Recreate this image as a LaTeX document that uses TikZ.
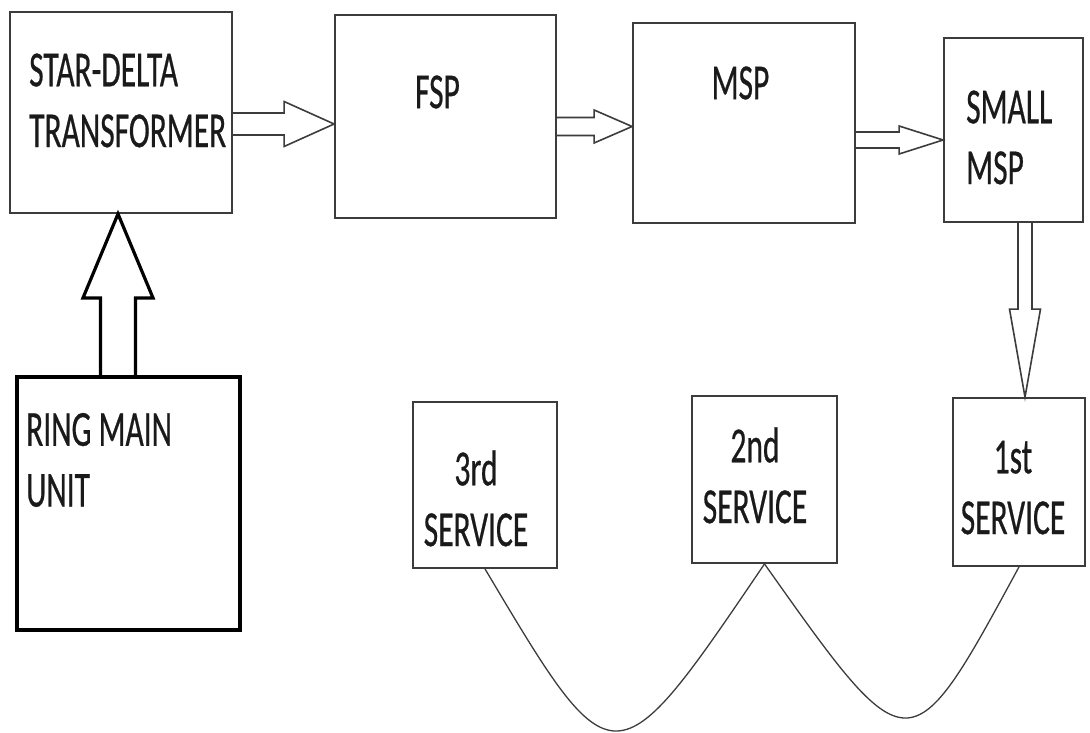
\documentclass[tikz,border=0pt]{standalone}
\usepackage{fontspec}
\setmainfont{Carlito}
\newfontfamily\labelfont{Carlito}[FakeBold=0.7]
\usepackage{graphicx}
\usetikzlibrary{calc}
\definecolor{linegray}{HTML}{3C3C3C}
\definecolor{inkblack}{HTML}{1A1A1A}
\newcommand{\tallL}[1]{\scalebox{1}[1.6]{\begin{tabular}{@{}l@{}}#1\end{tabular}}}
\newcommand{\tallC}[1]{\scalebox{1}[1.6]{\begin{tabular}{@{}c@{}}#1\end{tabular}}}
\tikzset{
  box/.style n args={2}{draw=linegray, line width=1.8pt, inner sep=0pt,
    minimum width=#1, minimum height=#2},
  txt/.style={inner sep=0pt, text=inkblack, font=\labelfont\fontsize{31.5}{38}\selectfont},
  hollow/.style={draw=linegray, line width=1.6pt, line join=miter},
  fat arrow/.style n args={3}{
    to path={
      let \p1=($(\tikztotarget)!#3!(\tikztostart)$) in
      ($(\tikztostart)!#1!90:(\tikztotarget)$)
      -- ($(\p1)!#1!90:(\tikztotarget)$)
      -- ($(\p1)!#2!90:(\tikztotarget)$)
      -- (\tikztotarget)
      -- ($(\p1)!#2!-90:(\tikztotarget)$)
      -- ($(\p1)!#1!-90:(\tikztotarget)$)
      -- ($(\tikztostart)!#1!-90:(\tikztotarget)$)
    }
  },
  wire/.style={draw=linegray, line width=1.3pt}
}
\begin{document}
\begin{tikzpicture}[x=1pt, y=-1pt]
  \useasboundingbox (0,0) rectangle (1090,733);

  \node (sdt)  [box={222pt}{201pt}] at (121,112.5) {};
  \node (fsp)  [box={221pt}{203pt}] at (445.5,116.5) {};
  \node (msp)  [box={222pt}{200pt}] at (744,123) {};
  \node (smsp) [box={139pt}{184pt}] at (1013.5,130) {};
  \node (rmu)  [box={223pt}{253pt}, draw=black, line width=3.2pt] at (128.5,503.5) {};
  \node (s3)   [box={144pt}{166pt}] at (485,485) {};
  \node (s2)   [box={145pt}{167pt}] at (764.5,479.5) {};
  \node (s1)   [box={132pt}{168pt}] at (1019,482) {};

  \node (sdt-t)  [txt, anchor=west] at (29,104.5) {\tallL{STAR-DELTA\\TRANSFORMER}};
  \node (fsp-t)  [txt] at (437.5,96) {\tallC{FSP}};
  \node (msp-t)  [txt] at (740.5,87) {\tallC{MSP}};
  \node (smsp-t) [txt, anchor=west] at (966,141.5) {\tallL{SMALL\\MSP}};
  \node (rmu-t)  [txt, anchor=west] at (26,464) {\tallL{RING MAIN\\UNIT}};
  \node (s3-t)   [txt] at (476,503.5) {\tallC{3rd\\SERVICE}};
  \node (s2-t)   [txt] at (755,480.5) {\tallC{2nd\\SERVICE}};
  \node (s1-t)   [txt] at (1013,491.5) {\tallC{1st\\SERVICE}};

  % power flow
  \draw[hollow, fat arrow={11pt}{22.5pt}{50pt}] (sdt.east |- 0,124) to (fsp.west |- 0,124);
  \draw[hollow, fat arrow={9pt}{16.5pt}{38pt}] (fsp.east |- 0,126.5) to (msp.west |- 0,126.5);
  \draw[hollow, fat arrow={8pt}{14pt}{44pt}] (msp.east |- 0,140) to (smsp.west |- 0,140);
  \draw[hollow, fat arrow={7pt}{15.5pt}{88pt}] (smsp.south -| 1025,0) to (s1.north -| 1025,0);
  \draw[hollow, line width=3.2pt, draw=black, fat arrow={17.5pt}{35pt}{84pt}]
    (rmu.north -| 118,0) to (sdt.south -| 118,0);

  % service loop
  \draw[wire] (s3.south) .. controls +(129,217) .. (s2.south);
  \draw[wire] (s2.south) .. controls +(145,205) .. (s1.south);
\end{tikzpicture}
\end{document}
